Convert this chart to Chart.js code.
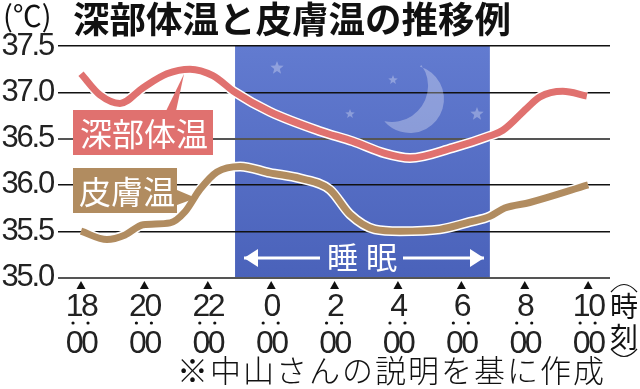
<!DOCTYPE html>
<html lang="ja">
<head>
<meta charset="utf-8">
<script src="https://cdn.jsdelivr.net/npm/chart.js@4/dist/chart.umd.min.js"></script>
<style>
  html, body { margin: 0; background: #fff; }
  canvas { display: block; }
</style>
</head>
<body>
<canvas id="myChart" width="640" height="389"></canvas>
<script>
// horas desde las 18:00
const hourTicks = [0, 2, 4, 6, 8, 10, 12, 14, 16];
const hourLabels = ['18', '20', '22', '0', '2', '4', '6', '8', '10'];
const sleepStart = 4.86;
const sleepEnd = 12.9;

const deepHours = [0, 0.6, 1.23, 1.96, 2.71, 3.44, 4.16, 4.86, 5.96, 7.54, 8.58, 9.59, 10.38, 11.73, 12.9, 13.31, 14.07, 14.48, 15.2, 15.96];
const deepTemp = [37.2, 36.97, 36.88, 37.05, 37.2, 37.25, 37.18, 37.0, 36.79, 36.58, 36.47, 36.34, 36.29, 36.4, 36.53, 36.59, 36.83, 36.95, 37.01, 36.96];

const skinHours = [0, 0.82, 1.39, 1.96, 2.81, 3.28, 3.75, 4.29, 5.02, 5.96, 6.91, 7.85, 8.49, 9.27, 10.06, 11.32, 12.27, 12.9, 13.37, 14.16, 16];
const skinTemp = [35.5, 35.41, 35.46, 35.57, 35.59, 35.71, 35.95, 36.14, 36.2, 36.13, 36.07, 35.95, 35.68, 35.52, 35.5, 35.52, 35.6, 35.66, 35.75, 35.81, 36.0];

const RED = '#e0716f';
const BROWN = '#b18c60';
const JP = '"Noto Sans CJK JP", sans-serif';

function toPoints(xs, ys) {
  return xs.map((x, i) => ({ x: x, y: ys[i] }));
}

function lineSet(xs, ys, color, width) {
  return {
    data: toPoints(xs, ys),
    borderColor: color,
    borderWidth: width,
    borderCapStyle: 'butt',
    pointRadius: 0,
    cubicInterpolationMode: 'monotone'
  };
}

// los numeros del original son mas angostos
function narrowLabels(scale, spacing) {
  const drawLabels = scale.drawLabels;
  scale.drawLabels = function (area) {
    scale.ctx.letterSpacing = spacing;
    drawLabels.call(scale, area);
    scale.ctx.letterSpacing = '0px';
  };
}

function star(ctx, cx, cy, r) {
  ctx.beginPath();
  for (let i = 0; i < 10; i++) {
    const a = -Math.PI / 2 + i * Math.PI / 5;
    const d = i % 2 ? r * 0.42 : r;
    ctx.lineTo(cx + d * Math.cos(a), cy + d * Math.sin(a));
  }
  ctx.closePath();
  ctx.fill();
}

function arrow(ctx, fromX, toX, y) {
  const dir = toX > fromX ? 1 : -1;
  ctx.fillRect(Math.min(fromX, toX), y - 1.5, Math.abs(toX - fromX), 3);
  ctx.beginPath();
  ctx.moveTo(toX, y);
  ctx.lineTo(toX - dir * 14, y - 9);
  ctx.lineTo(toX - dir * 14, y + 9);
  ctx.closePath();
  ctx.fill();
}

// fondo azul de las horas de sueño, va debajo de la grilla
const sleepBand = {
  id: 'sleepBand',
  beforeDraw(chart) {
    const { ctx, scales, chartArea } = chart;
    const left = scales.x.getPixelForValue(sleepStart);
    const right = scales.x.getPixelForValue(sleepEnd);
    const grad = ctx.createLinearGradient(0, chartArea.top, 0, chartArea.bottom);
    grad.addColorStop(0, '#627bd0');
    grad.addColorStop(1, '#4a62ba');
    ctx.fillStyle = grad;
    ctx.fillRect(left, chartArea.top, right - left, chartArea.bottom - chartArea.top);
  },
  beforeDatasetsDraw(chart) {
    const { ctx } = chart;
    ctx.save();
    ctx.fillStyle = 'rgba(255,255,255,0.3)';
    star(ctx, 277, 68, 7);
    star(ctx, 393, 80, 5);
    star(ctx, 350, 114, 5);
    star(ctx, 477, 114, 7);
    ctx.beginPath();
    ctx.arc(410, 99, 34, -1.277, 2.42, false);
    ctx.arc(392, 86, 36, 1.77, -0.62, true);
    ctx.closePath();
    ctx.fill();
    ctx.restore();
  }
};

// textos, etiquetas y marcas del eje
const annotations = {
  id: 'annotations',
  afterDatasetsDraw(chart) {
    const { ctx, scales } = chart;
    ctx.save();
    ctx.textBaseline = 'middle';
    ctx.textAlign = 'left';

    // etiqueta roja
    ctx.fillStyle = RED;
    ctx.fillRect(73, 110, 140, 45);
    ctx.beginPath();
    ctx.moveTo(166, 111);
    ctx.lineTo(184, 74);
    ctx.lineTo(176, 111);
    ctx.closePath();
    ctx.fill();
    ctx.fillStyle = '#fff';
    ctx.font = '32px ' + JP;
    ctx.fillText('深部体温', 80, 134);

    // etiqueta marron
    ctx.fillStyle = BROWN;
    ctx.fillRect(73, 168, 104, 45);
    ctx.beginPath();
    ctx.moveTo(177, 190);
    ctx.lineTo(196, 198);
    ctx.lineTo(177, 205);
    ctx.closePath();
    ctx.fill();
    ctx.fillStyle = '#fff';
    ctx.fillText('皮膚温', 79, 192);

    // flechas y texto de sueño
    arrow(ctx, 320, 244, 258);
    arrow(ctx, 403, 484, 258);
    ctx.font = '31px ' + JP;
    ctx.letterSpacing = '8px';
    ctx.fillText('睡眠', 327, 257);
    ctx.letterSpacing = '0px';

    // triangulos y puntos de cada hora
    ctx.fillStyle = '#111';
    hourTicks.forEach(h => {
      const x = scales.x.getPixelForValue(h);
      ctx.beginPath();
      ctx.moveTo(x, 281);
      ctx.lineTo(x + 4.5, 289);
      ctx.lineTo(x - 4.5, 289);
      ctx.closePath();
      ctx.fill();
      [-8, 7].forEach(dx => {
        ctx.beginPath();
        ctx.arc(x + dx, 323, 1.6, 0, Math.PI * 2);
        ctx.fill();
      });
    });

    // titulo y notas
    ctx.font = 'bold 36.5px ' + JP;
    ctx.fillText('深部体温と皮膚温の推移例', 73, 19);
    ctx.font = '29px ' + JP;
    ctx.fillText('(℃)', 3, 16);
    ctx.font = '300 31px ' + JP;
    ctx.letterSpacing = '2px';
    ctx.fillText('※中山さんの説明を基に作成', 177, 370);
    ctx.letterSpacing = '0px';

    // (時刻) en vertical
    ctx.textAlign = 'center';
    ctx.font = '28px ' + JP;
    ctx.fillText('時', 624, 306);
    ctx.fillText('刻', 624, 337);
    ctx.strokeStyle = '#111';
    ctx.lineWidth = 1.2;
    ctx.beginPath();
    ctx.moveTo(611, 292);
    ctx.quadraticCurveTo(624, 277, 637, 292);
    ctx.moveTo(611, 349);
    ctx.quadraticCurveTo(624, 364, 637, 349);
    ctx.stroke();
    ctx.restore();
  }
};

const config = {
  type: 'line',
  data: {
    datasets: [
      lineSet(skinHours, skinTemp, BROWN, 7),
      lineSet(skinHours, skinTemp, '#fff', 10),
      lineSet(deepHours, deepTemp, RED, 7),
      lineSet(deepHours, deepTemp, '#fff', 10)
    ]
  },
  options: {
    responsive: false,
    animation: false,
    layout: { autoPadding: false, padding: { top: 46, right: 30, left: 0, bottom: 0 } },
    plugins: { legend: { display: false }, tooltip: { enabled: false }, title: { display: false } },
    scales: {
      x: {
        type: 'linear',
        min: -0.726,
        max: 16.69,
        afterBuildTicks: scale => { scale.ticks = hourTicks.map(v => ({ value: v })); },
        afterFit: scale => {
          scale.height = 111.5;
          narrowLabels(scale, '-2.5px');
        },
        grid: { display: false, drawTicks: false },
        border: { display: false },
        ticks: {
          autoSkip: false,
          maxRotation: 0,
          padding: 11,
          color: '#222',
          font: { family: '"Liberation Sans", sans-serif', size: 32, lineHeight: 1.16 },
          callback: (value, i) => [hourLabels[i], '00']
        }
      },
      y: {
        min: 35,
        max: 37.5,
        afterFit: scale => {
          scale.width = 58;
          narrowLabels(scale, '-2.2px');
        },
        border: { display: false },
        grid: {
          drawTicks: false,
          color: c => (c.tick.value === 35 || c.tick.value === 36.5) ? '#555' : '#111',
          lineWidth: c => (c.tick.value === 35 || c.tick.value === 36.5) ? 2 : 1.4
        },
        ticks: {
          stepSize: 0.5,
          padding: 5,
          color: '#222',
          font: { family: '"Liberation Sans", sans-serif', size: 31 },
          callback: v => v.toFixed(1)
        }
      }
    }
  },
  plugins: [sleepBand, annotations]
};

new Chart(document.getElementById('myChart'), config);
</script>
</body>
</html>
